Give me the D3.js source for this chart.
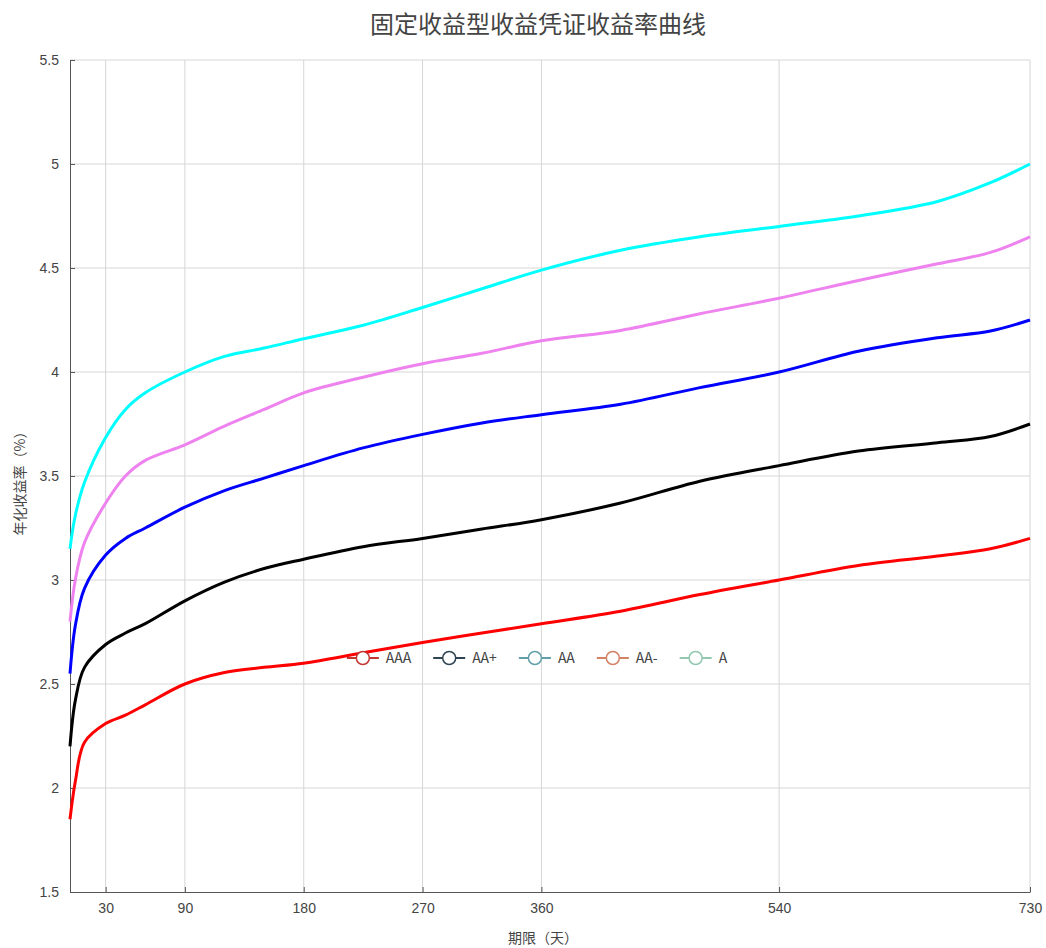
<!DOCTYPE html>
<html>
<head>
<meta charset="utf-8">
<script src="https://cdn.jsdelivr.net/npm/d3@7"></script>
<style>
  body { margin: 0; background: #fff; }
  svg { font-family: "Noto Sans CJK SC", "Noto Sans", sans-serif; }
</style>
</head>
<body>
<svg id="chart"></svg>
<script>
// 期限（天）
const days = [3, 7, 14, 30, 45, 60, 90, 120, 150, 180, 225, 270, 315, 360, 420, 480, 540, 600, 660, 700, 730];
const xTicks = [30, 90, 180, 270, 360, 540, 730];
const yTicks = [1.5, 2, 2.5, 3, 3.5, 4, 4.5, 5, 5.5];

const seriesNames = ["AAA", "AA+", "AA", "AA-", "A"];
const rateAAA  = [1.85, 2.03, 2.22, 2.31, 2.35, 2.40, 2.5, 2.555, 2.58, 2.6, 2.65, 2.7, 2.745, 2.79, 2.85, 2.93, 3.0, 3.07, 3.115, 3.15, 3.2];
const rateAAp  = [2.2, 2.42, 2.58, 2.69, 2.745, 2.79, 2.9, 2.99, 3.055, 3.1, 3.16, 3.2, 3.245, 3.29, 3.37, 3.475, 3.55, 3.62, 3.66, 3.69, 3.75];
const rateAA   = [2.55, 2.78, 2.96, 3.12, 3.2, 3.25, 3.35, 3.43, 3.49, 3.55, 3.635, 3.7, 3.755, 3.795, 3.845, 3.925, 4.0, 4.1, 4.165, 4.197, 4.25];
const rateAAm  = [2.8, 3.0, 3.18, 3.37, 3.5, 3.575, 3.65, 3.74, 3.82, 3.9, 3.975, 4.04, 4.09, 4.15, 4.2, 4.28, 4.355, 4.44, 4.52, 4.575, 4.65];
const rateA    = [3.15, 3.31, 3.47, 3.685, 3.82, 3.9, 4.0, 4.075, 4.115, 4.16, 4.225, 4.31, 4.4, 4.49, 4.585, 4.65, 4.7, 4.75, 4.82, 4.91, 5.0];

const lineColors = ["#ff0000", "#000000", "#0000ff", "#ee82ee", "#00ffff"];
const legendColors = ["#c23531", "#2f4554", "#61a0a8", "#d48265", "#91c7ae"];

const series = [rateAAA, rateAAp, rateAA, rateAAm, rateA].map((vals, i) => ({
    name: seriesNames[i],
    values: vals.map((v, j) => ({ day: days[j], rate: v }))
}));

const W = 1046, H = 948;
const margin = { top: 60, right: 16, bottom: 56, left: 70 };
const width = W - margin.left - margin.right;
const height = H - margin.top - margin.bottom;

const svg = d3.select("#chart").attr("width", W).attr("height", H);

const g = svg.append("g")
    .attr("transform", `translate(${margin.left},${margin.top})`);

const x = d3.scaleLinear().domain([3, 730]).range([0, width]);
const y = d3.scaleLinear().domain([1.5, 5.5]).range([height, 0]);

// grid lines
g.selectAll(".hgrid")
    .data(yTicks.filter(d => d > 1.5))
    .join("line")
    .attr("class", "hgrid")
    .attr("x1", 0).attr("x2", width)
    .attr("y1", d => y(d)).attr("y2", d => y(d))
    .attr("stroke", "#d6d6d6");

g.selectAll(".vgrid")
    .data(xTicks)
    .join("line")
    .attr("class", "vgrid")
    .attr("x1", d => x(d)).attr("x2", d => x(d))
    .attr("y1", 0).attr("y2", height)
    .attr("stroke", "#d6d6d6");

// axes
const xAxis = g.append("g")
    .attr("transform", `translate(0,${height})`)
    .call(d3.axisBottom(x).tickValues(xTicks).tickSizeInner(-5).tickSizeOuter(0).tickPadding(11));

const yAxis = g.append("g")
    .call(d3.axisLeft(y).tickValues(yTicks).tickFormat(d3.format("~g")).tickSizeInner(-5).tickSizeOuter(0).tickPadding(11));

[xAxis, yAxis].forEach(ax => {
    ax.select(".domain").attr("stroke", "#555");
    ax.selectAll(".tick line").attr("stroke", "#555");
    ax.selectAll(".tick text").attr("fill", "#444").style("font-size", "14px");
});

// lines
const line = d3.line()
    .x(d => x(d.day))
    .y(d => y(d.rate))
    .curve(d3.curveCatmullRom.alpha(0.5));

g.selectAll(".series")
    .data(series)
    .join("path")
    .attr("class", "series")
    .attr("fill", "none")
    .attr("stroke", (d, i) => lineColors[i])
    .attr("stroke-width", 3)
    .attr("stroke-linejoin", "round")
    .attr("d", d => line(d.values));

// title
svg.append("text")
    .attr("x", 538)
    .attr("y", 33)
    .attr("text-anchor", "middle")
    .attr("fill", "#444")
    .style("font-size", "24px")
    .text("固定收益型收益凭证收益率曲线");

// axis names
svg.append("text")
    .attr("transform", `translate(25,480) rotate(-90)`)
    .attr("text-anchor", "middle")
    .attr("fill", "#444")
    .style("font-size", "14px")
    .text("年化收益率（%）");

svg.append("text")
    .attr("x", 543)
    .attr("y", 943)
    .attr("text-anchor", "middle")
    .attr("fill", "#444")
    .style("font-size", "14px")
    .text("期限（天）");

// legend
const legend = svg.append("g").attr("class", "legend");
const itemGap = 22;
let cursor = 0;
seriesNames.forEach((name, i) => {
    const item = legend.append("g").attr("transform", `translate(${cursor},0)`);
    item.append("line")
        .attr("x1", 0).attr("x2", 32)
        .attr("stroke", legendColors[i]).attr("stroke-width", 2);
    item.append("circle")
        .attr("cx", 16).attr("r", 6.5)
        .attr("fill", "#fff")
        .attr("stroke", legendColors[i]).attr("stroke-width", 1.5);
    const t = item.append("text")
        .attr("x", 39).attr("dy", "0.35em")
        .attr("fill", "#444")
        .style("font-size", "14px")
        .text(name);
    cursor += 39 + t.node().getComputedTextLength() + itemGap;
});
const legendWidth = cursor - itemGap;
legend.attr("transform", `translate(${537 - legendWidth / 2},658)`);
</script>
</body>
</html>
